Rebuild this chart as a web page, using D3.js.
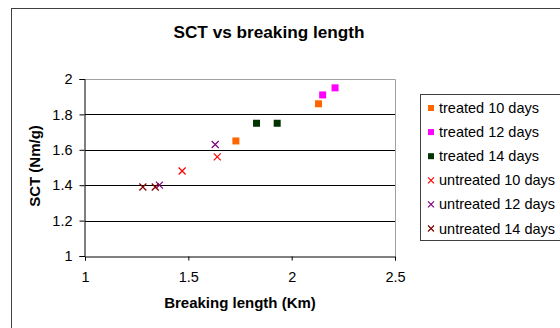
<!DOCTYPE html>
<html><head><meta charset="utf-8">
<script src="https://cdn.jsdelivr.net/npm/d3@7"></script>
<style>body{margin:0;background:#fff}svg{display:block;font-family:"Liberation Sans",Arial,sans-serif}</style>
</head><body><svg id="c" width="560" height="328"></svg>
<script>
const seriesNames = ["treated 10 days","treated 12 days","treated 14 days","untreated 10 days","untreated 12 days","untreated 14 days"];
const seriesColors = ["#FF6600","#FF00FF","#003300","#FF0000","#800080","#800000"];
const seriesShapes = ["square","square","square","x","x","x"];
const seriesX = [[1.73,2.13],[2.15,2.21],[1.83,1.93],[1.64,1.47],[1.63,1.36],[1.28,1.34]];
const seriesY = [[1.65,1.86],[1.91,1.95],[1.75,1.75],[1.56,1.48],[1.63,1.40],[1.39,1.39]];
const xTicks = [1,1.5,2,2.5];
const yTicks = [1,1.2,1.4,1.6,1.8,2];

const svg = d3.select("#c");
// outer chart border
svg.append("rect").attr("x",11.5).attr("y",8.5).attr("width",600).attr("height",400)
  .attr("fill","none").attr("stroke","#404040").attr("stroke-width",1);

const x = d3.scaleLinear().domain([1,2.5]).range([85,395]);
const y = d3.scaleLinear().domain([1,2]).range([256,79]);

// gridlines
svg.append("g").selectAll("line").data(yTicks.filter(d=>d>1&&d<2)).join("line")
  .attr("x1",x(1)).attr("x2",x(2.5)).attr("y1",d=>Math.round(y(d))+0.5).attr("y2",d=>Math.round(y(d))+0.5)
  .attr("stroke","#000");
// plot border top/right
svg.append("path").attr("d",`M${x(1)},${y(2)+0.5}H${x(2.5)+0.5}V${y(1)}`)
  .attr("fill","none").attr("stroke","#a0a0a0");

const xa = svg.append("g").attr("transform",`translate(0,${y(1)+0.5})`)
  .call(d3.axisBottom(x).tickValues(xTicks).tickFormat(d3.format("")).tickSize(4).tickPadding(11));
const ya = svg.append("g").attr("transform",`translate(${x(1)-0.5},0)`)
  .call(d3.axisLeft(y).tickValues(yTicks).tickFormat(d3.format("")).tickSize(5).tickPadding(7));
[xa,ya].forEach(a=>{a.select(".domain").attr("stroke","#000");a.selectAll(".tick line").attr("stroke","#000");
  a.selectAll("text").attr("font-size",14.5).attr("fill","#000").attr("font-family","Liberation Sans, Arial, sans-serif");});

// title & labels
svg.append("text").attr("x",269).attr("y",38).attr("text-anchor","middle").attr("font-size",17.2).attr("font-weight","bold").text("SCT vs breaking length");
svg.append("text").attr("x",240).attr("y",308).attr("text-anchor","middle").attr("font-size",15).attr("font-weight","bold").text("Breaking length (Km)");
svg.append("text").attr("transform","translate(40,166) rotate(-90)").attr("text-anchor","middle").attr("font-size",15).attr("font-weight","bold").text("SCT (Nm/g)");

function marker(g, shape, color, cx, cy, s){
  if(shape==="square"){
    g.append("rect").attr("x",cx-s/2).attr("y",cy-s/2).attr("width",s).attr("height",s).attr("fill",color);
  } else {
    const h=s/2;
    g.append("path").attr("d",`M${cx-h},${cy-h}L${cx+h},${cy+h}M${cx-h},${cy+h}L${cx+h},${cy-h}`)
      .attr("stroke",color).attr("stroke-width",1.2).attr("fill","none");
  }
}
const pts = svg.append("g");
seriesNames.forEach((n,i)=>{
  seriesX[i].forEach((xv,j)=>marker(pts,seriesShapes[i],seriesColors[i],x(xv),y(seriesY[i][j]),7));
});

// legend
const lg = svg.append("g");
lg.append("rect").attr("x",420.5).attr("y",94.5).attr("width",200).attr("height",146)
  .attr("fill","#fff").attr("stroke","#404040");
seriesNames.forEach((n,i)=>{
  const cy = 108 + i*24.1;
  marker(lg,seriesShapes[i],seriesColors[i],431,cy,6);
  lg.append("text").attr("x",439).attr("y",cy).attr("dy","0.35em").attr("font-size",14.5).text(n);
});
</script></body></html>
